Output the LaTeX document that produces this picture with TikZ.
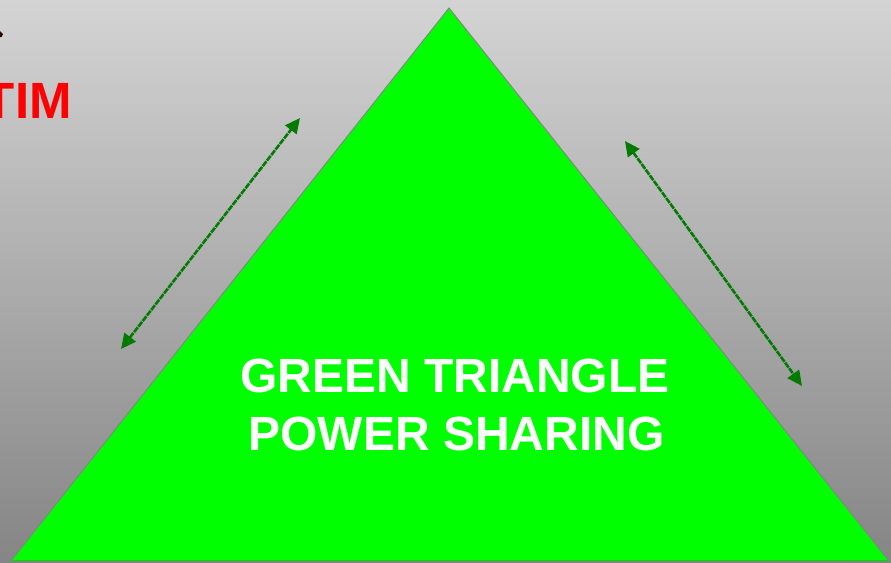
\documentclass[tikz,border=0pt]{standalone}
\usepackage{fontspec}
\setmainfont{Liberation Sans}
\usetikzlibrary{arrows.meta}
\definecolor{bgtop}{HTML}{D4D4D4}
\definecolor{bgbot}{HTML}{858585}
\definecolor{brightgreen}{HTML}{00FF00}
\definecolor{arrowgreen}{HTML}{007A00}
\definecolor{edgegray}{HTML}{7F8A7F}
\definecolor{basegreen}{HTML}{3CB43C}
\tikzset{
  sidearrow/.style={draw=arrowgreen, line width=2.6pt, dash pattern=on 6pt off 1pt,
    {Triangle[length=15pt,width=14pt,fill=arrowgreen]}-{Triangle[length=15pt,width=14pt,fill=arrowgreen]}},
  bigtext/.style={text=white, font=\bfseries\fontsize{48}{58}\selectfont, anchor=base, inner sep=0pt},
  redtext/.style={text=red, font=\bfseries\fontsize{51}{60}\selectfont, anchor=base east, inner sep=0pt}
}
\begin{document}
\begin{tikzpicture}[x=1pt,y=-1pt]
\useasboundingbox (0,0) rectangle (891,562);
\shade[top color=bgtop, bottom color=bgbot] (0,0) rectangle (891,562);
% triangle
\coordinate (apex) at (449,8);
\coordinate (bl) at (11,561);
\coordinate (br) at (889,561);
\fill[brightgreen] (apex) -- (br) -- (bl) -- cycle;
\draw[edgegray, line width=1pt] (bl) -- (apex) -- (br);
\draw[basegreen, line width=2pt] (bl) -- (br);
% arrows
\coordinate (la) at (121,349);
\coordinate (lb) at (300,118);
\coordinate (ra) at (625,141);
\coordinate (rb) at (802,386);
\draw[sidearrow] (la) -- (lb);
\draw[sidearrow] (ra) -- (rb);
% texts
\node[bigtext] (t1) at (455,392) {GREEN TRIANGLE};
\node[bigtext] (t2) at (456.5,450) {POWER SHARING};
\node[redtext] (tim) at (72,118) {TIM};
% small dark mark at top left
\fill[black!80!red] (0,31) -- (3,34) -- (1.5,37) -- (0,37) -- cycle;
\end{tikzpicture}
\end{document}
